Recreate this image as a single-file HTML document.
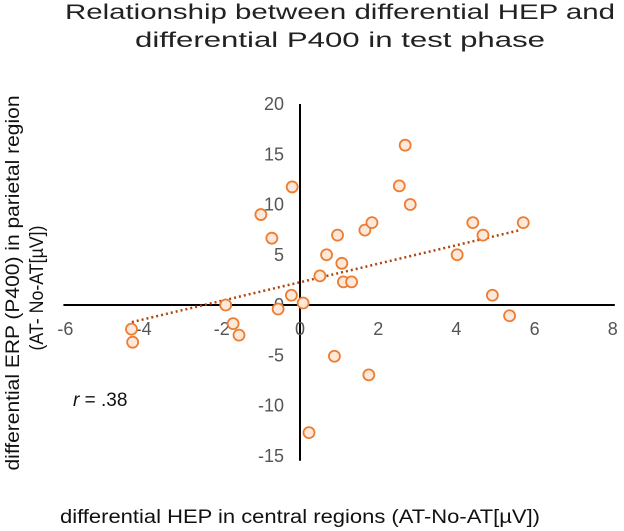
<!DOCTYPE html>
<html><head><meta charset="utf-8"><style>
body{margin:0;background:#fff;}
svg{display:block;font-family:"Liberation Sans",sans-serif;}
</style></head><body>
<svg id="chart" width="624" height="531">
<text x="340" y="19" text-anchor="middle" font-size="21" fill="#222" textLength="550" lengthAdjust="spacingAndGlyphs">Relationship between differential HEP and</text>
<text x="340" y="47" text-anchor="middle" font-size="21" fill="#222" textLength="410" lengthAdjust="spacingAndGlyphs">differential P400 in test phase</text>
<text transform="translate(19,283) rotate(-90)" text-anchor="middle" font-size="19" fill="#111" textLength="375" lengthAdjust="spacingAndGlyphs">differential ERP (P400) in parietal region</text>
<text transform="translate(43,288) rotate(-90)" text-anchor="middle" font-size="19" fill="#111" textLength="125" lengthAdjust="spacingAndGlyphs">(AT- No-AT[µV])</text>
<text x="300" y="523" text-anchor="middle" font-size="19" fill="#111" textLength="480" lengthAdjust="spacingAndGlyphs">differential HEP in central regions (AT-No-AT[µV])</text>
<text x="73" y="406" font-size="19" fill="#111"><tspan font-style="italic">r</tspan> = .38</text>
<g id="axes"></g>
<g id="marks"></g>
</svg>
<script>
const xTicks=[-6,-4,-2,0,2,4,6,8];
const yTicks=[-15,-10,-5,0,5,10,15,20];
const xVals=[-4.31,-4.28,-1.9,-1.71,-1.56,-1.0,-0.72,-0.56,-0.22,-0.2,0.08,0.23,0.51,0.68,0.88,0.96,1.07,1.11,1.32,1.66,1.76,1.84,2.54,2.69,2.82,4.02,4.42,4.68,4.92,5.36,5.71];
const yVals=[-2.4,-3.7,0,-1.85,-3.0,9.0,6.65,-0.4,0.97,11.75,0.2,-12.7,2.9,5.0,-5.1,6.95,4.15,2.3,2.3,7.45,-6.95,8.2,11.85,15.9,10.0,5.0,8.2,6.95,0.97,-1.07,8.2];
const trendX=[-4.3,5.65];
const trendY=[-1.7,7.47];
const NS="http://www.w3.org/2000/svg";
const sx=v=>300+v*39.1;
const sy=v=>305-v*10.05;
const axes=document.getElementById('axes'),marks=document.getElementById('marks');
function mk(tag,attrs,parent){const e=document.createElementNS(NS,tag);for(const k in attrs)e.setAttribute(k,attrs[k]);parent.appendChild(e);return e;}
let l=mk('line',{x1:sx(-6)-2,x2:sx(8)+2,y1:sy(0),y2:sy(0),stroke:'#000','stroke-width':2},axes);


l=mk('line',{x1:sx(0),x2:sx(0),y1:sy(20),y2:sy(-15.5),stroke:'#000','stroke-width':2},axes);


xTicks.forEach(v=>{const t=mk('text',{x:sx(v),y:sy(0)+30,'text-anchor':'middle','font-size':18,fill:'#555'},axes);t.textContent=v;

});
yTicks.forEach(v=>{const t=mk('text',{x:sx(0)-16,y:sy(v)+6,'text-anchor':'end','font-size':18,fill:'#555'},axes);t.textContent=v;

});
const tl=mk('line',{x1:sx(trendX[0]),y1:sy(trendY[0]),x2:sx(trendX[1]),y2:sy(trendY[1]),stroke:'#B2440E','stroke-width':2.5,'stroke-dasharray':'2 3'},marks);


xVals.forEach((v,i)=>{const c=mk('circle',{cx:sx(v),cy:sy(yVals[i]),r:5.5,fill:'#FCE9DC',stroke:'#ED7D31','stroke-width':1.8},marks);

});
</script>
</body></html>
